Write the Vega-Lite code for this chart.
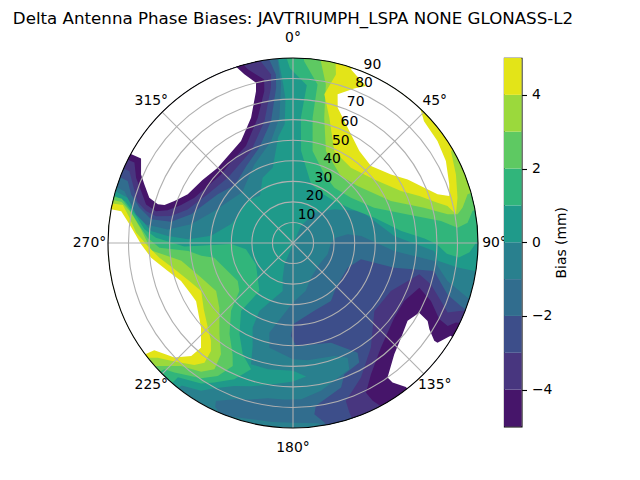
{"$schema":"https://vega.github.io/schema/vega-lite/v6.json","padding":{"left":12,"top":10,"right":5,"bottom":5},"bounds":"flush","spacing":26,"config":{"view":{"stroke":null},"font":"DejaVu Sans","axis":{"labelFont":"DejaVu Sans","titleFont":"DejaVu Sans"},"title":{"font":"DejaVu Sans"}},
"datasets":{"bands":[
{"type":"Feature","properties":{"v":0.5},"geometry":{"type":"Polygon","coordinates":[[[-175,-5],[165,-5],[145,-5],[125,-5],[105,-5],[81,-5],[81.5,9],[83,19],[86.8,21.2],[94,40.6],[115.2,53.4],[129.2,64.1],[145,72],[155,81],[-22,79],[-16.6,72.4],[-12.1,66.1],[-20.8,59.8],[-26.3,53.1],[-25.5,44.4],[-21.4,36.2],[-19.1,27.6],[-11.3,27.4],[0,27.8],[5.6,24.7],[0,22.6],[-10,19.9],[-22.3,14.8],[-28.4,9.6],[-31.9,5.3],[-38,2],[-39,-5],[-60,-5],[-80,-5],[-95,-5],[-107,-5],[-105.3,6.6],[-99.4,14.3],[-94.8,20.7],[-93.2,29],[-92,39],[-95,50],[-107,58.5],[-115,60],[-125,60],[-135,60],[-145,62],[-155,55],[-165,52],[-172,38],[-176,32],[-177,20],[-176.5,13],[-175,-5]]]}},
{"type":"Feature","properties":{"v":1.5},"geometry":{"type":"Polygon","coordinates":[[[-177,-5],[165,-5],[145,-5],[125,-5],[105,-5],[94,-5],[90,1],[87,4],[85,9],[86,15],[89.5,20],[92,26],[96.3,37],[107.3,48.5],[120,57],[135.5,61.4],[150,62],[163,60],[170,53],[175,45],[176.4,29],[175,13],[-179,5],[-177,-5]]]}},
{"type":"Feature","properties":{"v":1.5},"geometry":{"type":"Polygon","coordinates":[[[-41,-5],[-60,-5],[-80,-5],[-95,-5],[-105.6,-5],[-104,5.8],[-99.8,12.6],[-95.3,17.4],[-92.2,23.3],[-88.2,37.1],[-89,60],[-82.3,66.9],[-60,69.2],[-35,61.5],[-37.4,48.4],[-30.4,38.5],[-24.3,30.6],[-18.4,25.3],[-23.3,17.8],[-29.4,12.1],[-33.2,8.3],[-40.6,4],[-41,-5]]]}},
{"type":"Feature","properties":{"v":2.5},"geometry":{"type":"Polygon","coordinates":[[[177,-5],[160,-5],[140,-5],[120,-5],[101,-5],[100.1,1.3],[96.6,4.5],[95.3,9.6],[98.5,17.2],[104,32.5],[113.5,47],[128,54.2],[143.2,56.4],[155.5,53.3],[168,44.2],[171.1,28.3],[171.2,12],[176.5,1.4],[177,-5]]]}},
{"type":"Feature","properties":{"v":2.5},"geometry":{"type":"Polygon","coordinates":[[[-47,-5],[-65,-5],[-85,-5],[-104.5,-5],[-104.5,4],[-101.6,8.8],[-96.9,14.3],[-92,19.3],[-88,25],[-85.6,39],[-82,45],[-79.4,51],[-55.5,57.4],[-48.2,55],[-42.4,45.3],[-34.9,36],[-28.5,28.4],[-26.1,23.4],[-29.5,15.7],[-34.2,10.4],[-42.5,4.6],[-45.5,2.3],[-47,-5]]]}},
{"type":"Feature","properties":{"v":3.5},"geometry":{"type":"Polygon","coordinates":[[[172,-5],[155,-5],[135,-5],[120,-5],[106,-5],[105.6,1.8],[101.8,5.7],[99.9,8.7],[100.5,13.5],[105.1,24],[113.2,38.2],[131.4,48.1],[144.4,50],[160.3,42.5],[166,27.2],[168.3,11.2],[171.3,0.5],[172,-5]]]}},
{"type":"Feature","properties":{"v":3.5},"geometry":{"type":"Polygon","coordinates":[[[-49,-5],[-65,-5],[-85,-5],[-103.4,-5],[-103.5,4.3],[-100.6,9.9],[-95.1,15.8],[-87,21],[-81,35],[-69.4,42.2],[-58,45.9],[-48.7,42.3],[-38.9,33],[-32.9,25.5],[-31.9,17.7],[-35.5,13],[-42.3,9.1],[-46.3,3.4],[-48,0.5],[-49,-5]]]}},
{"type":"Feature","properties":{"v":4.5},"geometry":{"type":"Polygon","coordinates":[[[167.6,-5],[150,-5],[135,-5],[120.2,-5],[120.2,1.1],[112.8,4],[105.4,7],[100,9.5],[103.5,12.7],[105.6,17],[115.7,31.7],[128,39.8],[142.4,43.8],[155.8,41],[163.8,26.6],[168.1,16.1],[165.7,5.4],[167.6,-5]]]}},
{"type":"Feature","properties":{"v":4.5},"geometry":{"type":"Polygon","coordinates":[[[-52,-5],[-70,-5],[-88,-5],[-102,-5],[-102.6,5.2],[-98.8,9.5],[-93.8,13.5],[-88.8,19.3],[-83.7,24.6],[-77.5,31],[-69.9,36.3],[-62.4,39.6],[-45.2,31.6],[-40,27.9],[-37.2,24],[-36.5,17.6],[-39,13.7],[-45,8.4],[-49.7,3.7],[-51.7,0],[-52,-5]]]}},
{"type":"Feature","properties":{"v":5.5},"geometry":{"type":"Polygon","coordinates":[[[161,-5],[142.5,-5],[132.9,3],[125.2,4],[118.2,5.6],[110.6,8.8],[106.7,10.6],[108.6,15.8],[112.8,20.7],[119,26.2],[125,31.8],[134.6,36.7],[144.2,34.8],[153.3,29],[161.7,20.7],[163.3,14.5],[158.4,9.1],[155.1,5.8],[161.5,1],[161,-5]]]}},
{"type":"Feature","properties":{"v":5.5},"geometry":{"type":"Polygon","coordinates":[[[-53.8,-5],[-70,-5],[-85,-5],[-100.5,-5],[-100.5,5],[-96.5,10],[-89.5,16.1],[-84.1,20.6],[-77.4,27.6],[-71.3,32.5],[-63.3,34.5],[-59,35],[-47.4,29.2],[-41.3,22.2],[-42,16],[-46,9.8],[-52.3,4.7],[-53.8,-5]]]}},
{"type":"Feature","properties":{"v":-1.5},"geometry":{"type":"Polygon","coordinates":[[[90.5,71.5],[97.1,69],[99,63.1],[95.9,56.6],[85.5,40.6],[82.7,20.7],[76.2,12.6],[72.6,1],[72,-5],[55,-5],[35,-5],[20,-5],[11,-5],[8,1.5],[0,2.6],[-13.4,1.9],[-18.6,0.7],[-22.8,-0.4],[-25.4,1.7],[-26,4.5],[-20.6,8.8],[-9.3,13.5],[3,13.9],[10.7,16.8],[17.5,20.5],[24,22.7],[25.5,28.2],[20.1,31.5],[7.1,32.5],[0,33.4],[-12.7,37.8],[-14.8,44.9],[-9.1,53.2],[0,61],[15,66],[27.4,71],[50,73.5],[72,72.3],[90.5,71.5]]]}},
{"type":"Feature","properties":{"v":-1.5},"geometry":{"type":"Polygon","coordinates":[[[-108,-5],[-130,-5],[-155,-5],[-175,-5],[-175.7,12.6],[-173.8,28.7],[-167.8,39.3],[-153.8,47.4],[-135,55],[-112.1,48.7],[-100.4,39.6],[-96.2,28.7],[-97.2,18],[-100.3,12.4],[-104.4,7.8],[-107.1,4.2],[-108,-5]]]}},
{"type":"Feature","properties":{"v":-2.5},"geometry":{"type":"Polygon","coordinates":[[[-1.2,44.8],[0,50.5],[17.4,55.4],[33.2,56.3],[44,59.9],[65.7,60.8],[76.5,56],[76.3,39.3],[78.8,20],[71.6,10.8],[69.4,2.8],[68,-5],[50,-5],[30,-5],[12,-5],[9.9,1.3],[7.1,6],[8,10],[18.4,15.9],[21.4,21.4],[29,23.5],[30.5,28.1],[20.9,38.1],[1.7,39.9],[-1.2,44.8]]]}},
{"type":"Feature","properties":{"v":-2.5},"geometry":{"type":"Polygon","coordinates":[[[-111,-5],[-140,-5],[-171.6,-5],[-174.2,7.6],[-173.8,14],[-169.8,29.7],[-160.5,40.8],[-135,50.1],[-122.9,46.4],[-105.7,38.5],[-99.9,29.8],[-99.5,20],[-103,13.3],[-106.7,7.8],[-110.6,4.1],[-111,-5]]]}},
{"type":"Feature","properties":{"v":-3.5},"geometry":{"type":"Polygon","coordinates":[[[76.1,26.7],[73.3,20],[68.6,12.7],[65.8,7.5],[67.8,2.6],[70,-5],[50,-5],[30,-5],[19,-5],[18.4,3.1],[18.5,9],[26.8,16.7],[36.7,26.6],[50.1,38.4],[63.9,37],[76.1,26.7]]]}},
{"type":"Feature","properties":{"v":-3.5},"geometry":{"type":"Polygon","coordinates":[[[-113.8,-5],[-140,-5],[-168,-5],[-172.6,7.3],[-171.9,13.7],[-166.8,29.1],[-155.5,40.8],[-135,45.1],[-119.7,42.2],[-107.7,36.2],[-102.5,29.2],[-101.1,22.1],[-102.3,16.8],[-104.8,11.8],[-110.1,7],[-113.7,3.1],[-113.8,-5]]]}},
{"type":"Feature","properties":{"v":-4.5},"geometry":{"type":"Polygon","coordinates":[[[70.5,24.8],[67.2,17.2],[62.5,9.8],[61.8,4.6],[64,1.8],[65.3,-5],[50,-5],[30,-5],[26.8,4],[26,9],[30.7,15.7],[40,23.5],[53.6,28.8],[62.5,29],[70.5,24.8]]]}},
{"type":"Feature","properties":{"v":-4.5},"geometry":{"type":"Polygon","coordinates":[[[-116.5,-5],[-140,-5],[-163,-5],[-165.4,2.7],[-170,9.2],[-169.3,14.8],[-164.3,26.7],[-154.1,37.6],[-133.6,41.6],[-114.7,37.2],[-108.7,32.5],[-104.6,27],[-103.1,21.6],[-104.7,16.1],[-108.9,11.9],[-112.6,7.3],[-116.9,3.5],[-116.5,-5]]]}},
{"type":"Feature","properties":{"v":-5.5},"geometry":{"type":"Polygon","coordinates":[[[61.1,19.9],[59.9,14.3],[57.7,11.5],[55.3,6.4],[55.4,4.6],[59.5,1],[59.5,-5],[50,-5],[38.5,-5],[38.1,1],[35.5,6.6],[35.1,10],[42.3,16.8],[48.8,20.1],[55.8,22.6],[61.1,19.9]]]}},
{"type":"Feature","properties":{"v":-5.5},"geometry":{"type":"Polygon","coordinates":[[[-118.5,-5],[-140,-5],[-160.3,-5],[-163.9,4.6],[-167,10],[-166.3,14],[-161.5,25.7],[-153,34.3],[-135,38.2],[-114.8,33.6],[-109.5,28.8],[-106.5,24.8],[-106,21.6],[-107.5,16.7],[-111.5,12.3],[-114.3,8.9],[-119.1,5.4],[-118.5,-5]]]}}
],
"rings":[{"r":10},{"r":20},{"r":30},{"r":40},{"r":50},{"r":60},{"r":70},{"r":80}],
"rim":[{"r":90}],
"spokes":[{"t":0,"r":90,"s":0},{"t":45,"r":90,"s":0},{"t":90,"r":90,"s":0},{"t":135,"r":90,"s":0},{"t":180,"r":90,"s":0},{"t":225,"r":90,"s":0},{"t":270,"r":90,"s":0},{"t":315,"r":90,"s":0}],
"azlabels":[{"t":0,"r":99.5,"l":"0°"},{"t":45,"r":97.5,"l":"45°"},{"t":90,"r":98,"l":"90°"},{"t":135,"r":97.5,"l":"135°"},{"t":180,"r":99.5,"l":"180°"},{"t":225,"r":97.5,"l":"225°"},{"t":270,"r":99,"l":"270°"},{"t":315,"r":97.5,"l":"315°"}],
"rlabels":[{"t":26,"r":15,"l":"10"},{"t":25,"r":25,"l":"20"},{"t":25,"r":35,"l":"30"},{"t":25,"r":45,"l":"40"},{"t":25,"r":55,"l":"50"},{"t":25,"r":65,"l":"60"},{"t":24,"r":75,"l":"70"},{"t":24,"r":85,"l":"80"},{"t":24,"r":95,"l":"90"}],
"bar":[{"lo":-5,"hi":-4,"v":-4.5},{"lo":-4,"hi":-3,"v":-3.5},{"lo":-3,"hi":-2,"v":-2.5},{"lo":-2,"hi":-1,"v":-1.5},{"lo":-1,"hi":0,"v":-0.5},{"lo":0,"hi":1,"v":0.5},{"lo":1,"hi":2,"v":1.5},{"lo":2,"hi":3,"v":2.5},{"lo":3,"hi":4,"v":3.5},{"lo":4,"hi":5,"v":4.5}]},
"hconcat":[
{"title":{"text":"Delta Antenna Phase Biases: JAVTRIUMPH_LSPA NONE GLONASS-L2","fontSize":16.67,"fontWeight":"normal","anchor":"middle","offset":4,"color":"#000000"},
"width":370,"height":370,
"layer":[
{"data":{"name":"rim"},"mark":{"type":"arc","fill":"#29808e","theta":0,"theta2":6.283185307},"encoding":{"radius":{"field":"r","type":"quantitative","scale":{"type":"linear","domain":[0,90],"range":[0,185]}}}},
{"data":{"name":"bands"},"projection":{"type":"azimuthalEquidistant","rotate":[0,-90],"scale":117.77,"translate":[185,185],"clipAngle":90},"mark":{"type":"geoshape","strokeWidth":0},"encoding":{
"color":{"field":"properties.v","type":"quantitative","legend":null,"scale":{"type":"threshold","domain":[-5,-4,-3,-2,-1,0,1,2,3,4,5],"range":["#ffffff","#46156a","#48367f","#3d4e8a","#316d8e","#29808e","#1f9a8a","#31b57b","#5ec962","#9bd93c","#e3e418","#ffffff"]}}}},
{"data":{"name":"rings"},"mark":{"type":"arc","filled":false,"stroke":"#b0b0b0","strokeWidth":1.1,"theta":0,"theta2":6.283185307},"encoding":{"radius":{"field":"r","type":"quantitative"},"radius2":{"field":"r"}}},
{"data":{"name":"spokes"},"mark":{"type":"arc","filled":false,"stroke":"#b0b0b0","strokeWidth":1.1},"encoding":{"theta":{"field":"t","type":"quantitative","scale":{"domain":[0,360],"range":[0,6.283185307]}},"theta2":{"field":"t"},"radius":{"field":"r","type":"quantitative"},"radius2":{"field":"s"}}},
{"data":{"name":"rim"},"mark":{"type":"arc","filled":false,"stroke":"#000000","strokeWidth":1.1,"theta":0,"theta2":6.283185307},"encoding":{"radius":{"field":"r","type":"quantitative"},"radius2":{"field":"r"}}},
{"data":{"name":"azlabels"},"mark":{"type":"text","fontSize":13.9,"align":"center","baseline":"middle","color":"#000000"},"encoding":{"theta":{"field":"t","type":"quantitative"},"radius":{"field":"r","type":"quantitative"},"text":{"field":"l"}}},
{"data":{"name":"rlabels"},"mark":{"type":"text","fontSize":13.9,"align":"center","baseline":"middle","color":"#000000"},"encoding":{"theta":{"field":"t","type":"quantitative"},"radius":{"field":"r","type":"quantitative"},"text":{"field":"l"}}}
]},
{"width":17.6,"height":368.5,"view":{"stroke":"#000000","strokeWidth":1.1},"data":{"name":"bar"},"mark":{"type":"rect"},"encoding":{
"y":{"field":"lo","type":"quantitative","scale":{"domain":[-5,5],"nice":false},"axis":{"orient":"right","values":[-4,-2,0,2,4],"grid":false,"domain":false,"tickColor":"#000000","tickSize":4.9,"tickWidth":1.1,"labelColor":"#000000","labelFontSize":13.9,"labelPadding":4.9,"title":"Bias (mm)","titleFontSize":13.9,"titleFontWeight":"normal","titleColor":"#000000","titleAngle":270,"titlePadding":17}},
"y2":{"field":"hi"},
"color":{"field":"v","type":"quantitative","legend":null,"scale":{"type":"threshold","domain":[-5,-4,-3,-2,-1,0,1,2,3,4,5],"range":["#ffffff","#46156a","#48367f","#3d4e8a","#316d8e","#29808e","#1f9a8a","#31b57b","#5ec962","#9bd93c","#e3e418","#ffffff"]}}}}
],"resolve":{"scale":{"color":"independent"}}}
